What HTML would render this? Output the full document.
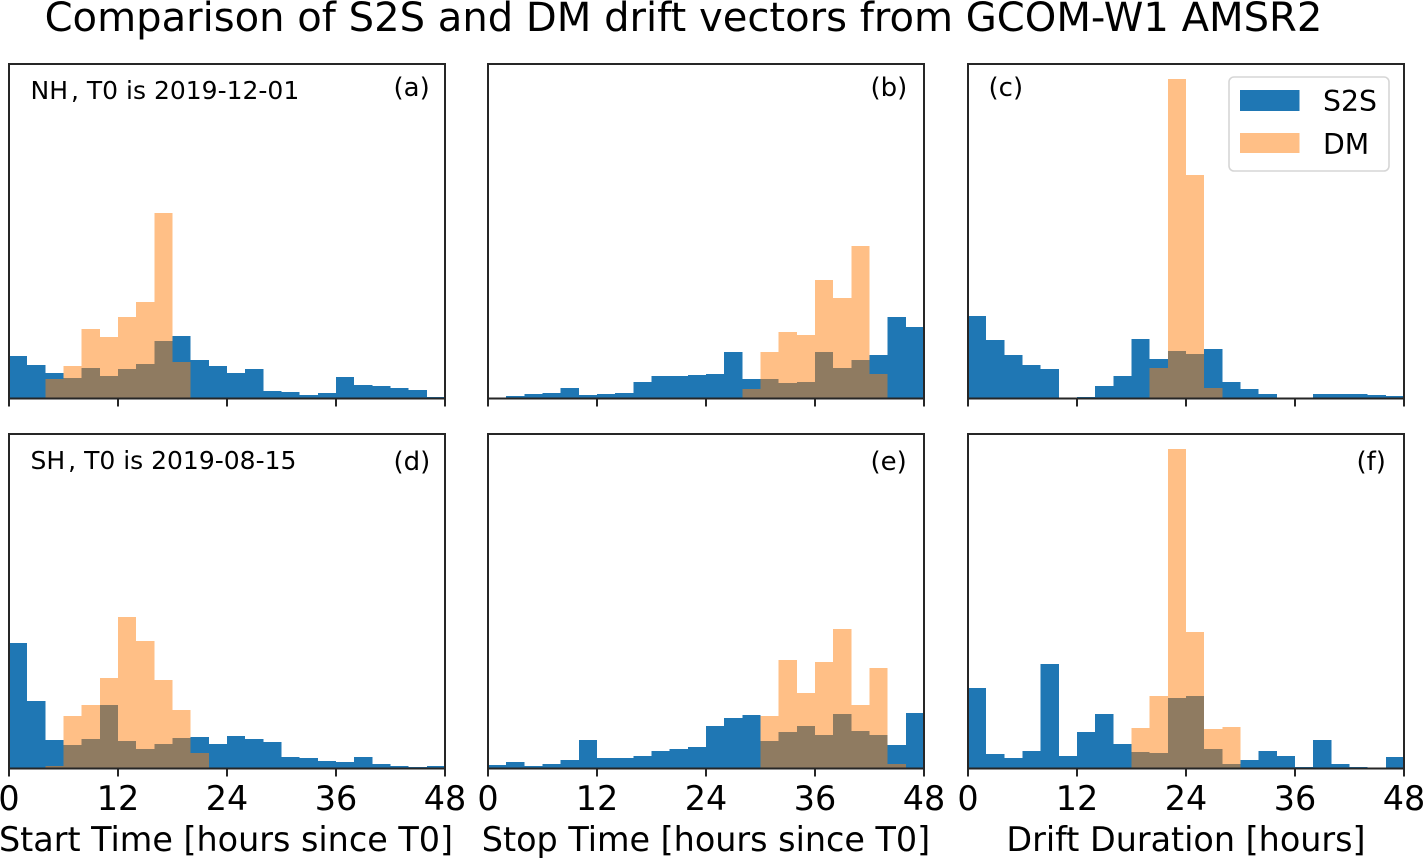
<!DOCTYPE html>
<html lang="en">
<head>
<meta charset="utf-8">
<title>Comparison of S2S and DM drift vectors from GCOM-W1 AMSR2</title>
<style>
html,body{margin:0;padding:0;background:#fff;width:1423px;height:858px;overflow:hidden}
svg{display:block}
text{font-family:"DejaVu Sans","Liberation Sans",sans-serif;fill:#000}
.tick-label{font-size:33.4px;text-anchor:middle}
.axis-label{font-size:33.4px;text-anchor:middle}
.note{font-size:25px}
.letter{font-size:26px}
.legend-label{font-size:28.3px}
</style>
</head>
<body>
<svg id="figure" xmlns="http://www.w3.org/2000/svg" width="1423" height="858" viewBox="0 0 1423 858">
  <rect x="0" y="0" width="1423" height="858" fill="#ffffff"/>
  <text x="683.5" y="31" font-size="40.1" text-anchor="middle">Comparison of S2S and DM drift vectors from GCOM-W1 AMSR2</text>
  <g id="plots"></g>

  <text class="note" x="30.500" y="99">NH<tspan dx="3">,</tspan> T0 is 2019-12-01</text>
  <text class="note" x="30.500" y="469">SH<tspan dx="3">,</tspan> T0 is 2019-08-15</text>
  <text class="letter" x="393.500" y="96">(a)</text>
  <text class="letter" x="870.500" y="96">(b)</text>
  <text class="letter" x="988.500" y="96">(c)</text>
  <text class="letter" x="393.500" y="470">(d)</text>
  <text class="letter" x="870.500" y="470">(e)</text>
  <text class="letter" x="1356.500" y="470">(f)</text>

  <text class="axis-label" x="226" y="851">Start Time [hours since T0]</text>
  <text class="axis-label" x="706" y="851">Stop Time [hours since T0]</text>
  <text class="axis-label" x="1186" y="851">Drift Duration [hours]</text>

  <g>
    <rect x="1229" y="77" width="160" height="94" rx="5" ry="5" fill="#ffffff" fill-opacity="0.8" stroke="#d6d6d6" stroke-width="1.6"/>
    <rect x="1240" y="90" width="59.500" height="21" fill="#1f77b4"/>
    <rect x="1240" y="133" width="59.500" height="20" fill="#ff7f0e" fill-opacity="0.5"/>
    <text class="legend-label" x="1323" y="111">S2S</text>
    <text class="legend-label" x="1323" y="154">DM</text>
  </g>
</svg>
<script>
// Shared axis data
const xTickValues = [0, 12, 24, 36, 48];
const xTickLabels = ['0', '12', '24', '36', '48'];
const binWidthHours = 2;
const xMaxHours = 48;
const yMaxValue = 33.45;

// Histogram values, one per 2-hour bin (0-48 h)
const s2sPanelA = [4.23,3.33,2.53,2.03,3.03,2.23,2.93,3.43,5.73,6.23,3.83,3.23,2.53,2.93,0.73,0.63,0.33,0.53,2.13,1.33,1.23,1.03,0.83,0.13];
const dmPanelA  = [0,0,1.93,3.23,6.93,6.13,8.13,9.63,18.53,3.63,0,0,0,0,0,0,0,0,0,0,0,0,0,0];

const s2sPanelB = [0,0.23,0.43,0.53,1.03,0.33,0.43,0.53,1.63,2.23,2.23,2.33,2.43,4.63,1.93,1.93,1.53,1.63,4.63,3.03,3.83,4.33,8.13,7.13];
const dmPanelB  = [0,0,0,0,0,0,0,0,0,0,0,0,0,0,0.93,4.63,6.63,6.33,11.83,10.03,15.23,2.43,0,0];

const s2sPanelC = [8.23,5.83,4.33,3.33,2.93,0,0.13,1.23,2.23,5.93,3.93,4.73,4.43,4.93,1.63,0.93,0.43,0.03,0.03,0.43,0.43,0.43,0.33,0.23];
const dmPanelC  = [0,0,0,0,0,0,0,0,0,0,3.03,31.93,22.33,1.03,0,0,0,0,0,0,0,0,0,0];

const s2sPanelD = [12.53,6.73,2.83,2.33,2.93,6.33,2.73,1.93,2.43,3.03,3.13,2.43,3.23,2.93,2.63,1.13,1.03,0.73,0.63,1.13,0.43,0.23,0.13,0.23];
const dmPanelD  = [0,0,0.23,5.23,6.33,9.03,15.13,12.73,8.83,5.83,1.53,0,0,0,0,0,0,0,0,0,0,0,0,0];

const s2sPanelE = [0.33,0.63,0.23,0.43,0.83,2.83,1.03,1.03,1.23,1.73,1.93,2.13,4.23,5.03,5.33,2.73,3.63,4.23,3.33,5.43,3.73,3.33,2.33,5.53];
const dmPanelE  = [0,0,0,0,0,0,0,0,0,0,0,0,0,0,0,5.23,10.83,7.53,10.63,13.93,6.33,10.03,0.43,0];

const s2sPanelF = [8.03,1.43,1.03,1.73,10.43,1.23,3.63,5.43,2.43,1.63,1.53,7.03,7.23,1.93,0.43,0.83,1.73,1.23,0.13,2.83,0.43,0.13,0,1.13];
const dmPanelF  = [0,0,0,0,0,0,0,0,0,4.03,7.23,31.93,13.63,3.93,4.13,0,0,0,0,0,0,0,0,0];

const panelIds = ['a', 'b', 'c', 'd', 'e', 'f'];
const panelS2S = [s2sPanelA, s2sPanelB, s2sPanelC, s2sPanelD, s2sPanelE, s2sPanelF];
const panelDM  = [dmPanelA, dmPanelB, dmPanelC, dmPanelD, dmPanelE, dmPanelF];

const SVG_NS = 'http://www.w3.org/2000/svg';
const plots = document.getElementById('plots');
const colLeft = [9, 488, 968];
const colWidth = [436, 436, 436];
const rowTop = [64, 434];
const rowHeight = 334.5;

function make(tag, attrs, parent) {
  const el = document.createElementNS(SVG_NS, tag);
  for (const k in attrs) el.setAttribute(k, attrs[k]);
  parent.appendChild(el);
  return el;
}

function drawSeries(group, values, xScale, yScale, fill, opacity, panelId, seriesName) {
  values.forEach(function (value, i) {
    const x0 = xScale(i * binWidthHours);
    const x1 = xScale((i + 1) * binWidthHours);
    const y0 = yScale(value);
    const bar = make('rect', {
      x: x0, y: y0, width: x1 - x0, height: yScale(0) - y0,
      fill: fill, 'fill-opacity': opacity, 'shape-rendering': 'crispEdges'
    }, group);
    
    
  });
}

panelIds.forEach(function (id, idx) {
  const col = idx % 3;
  const row = Math.floor(idx / 3);
  const left = colLeft[col];
  const width = colWidth[col];
  const top = rowTop[row];
  const bottom = top + rowHeight;
  const xScale = function (h) { return left + (h / xMaxHours) * width; };
  const yScale = function (v) { return bottom - (v / yMaxValue) * rowHeight; };

  const g = make('g', {}, plots);
  
  

  drawSeries(g, panelS2S[idx], xScale, yScale, '#1f77b4', 1, id, 's2s');
  drawSeries(g, panelDM[idx], xScale, yScale, '#ff7f0e', 0.5, id, 'dm');

  xTickValues.forEach(function (t, i) {
    const tx = xScale(t);
    const tick = make('line', { x1: tx, x2: tx, y1: bottom, y2: bottom + 8, stroke: '#262626', 'stroke-width': 2 }, g);
    
    
    if (row === 1) {
      const lab = make('text', { x: tx, y: 810, class: 'tick-label' }, g);
      lab.textContent = xTickLabels[i];
      
      
    }
  });

  const frame = make('rect', { x: left, y: top, width: width, height: rowHeight, fill: 'none', stroke: '#262626', 'stroke-width': 2 }, g);
  
  
});
</script>
</body>
</html>
